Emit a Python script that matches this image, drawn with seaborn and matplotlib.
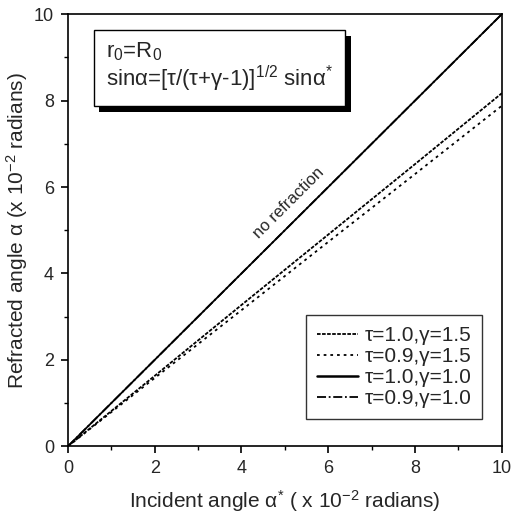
import numpy as np
import matplotlib
matplotlib.use("Agg")
import matplotlib.pyplot as plt
import matplotlib.patheffects as pe
from matplotlib.ticker import MultipleLocator
import pandas as pd
import seaborn as sns

# values
incident = [0, 2, 4, 6, 8, 10]
refr_t10_g15 = [0, 1.63, 3.27, 4.90, 6.53, 8.17]
refr_t09_g15 = [0, 1.58, 3.15, 4.73, 6.30, 7.88]
refr_t10_g10 = [0, 2, 4, 6, 8, 10]
refr_t09_g10 = [0, 2, 4, 6, 8, 10]
labels = ["τ=1.0,γ=1.5", "τ=0.9,γ=1.5", "τ=1.0,γ=1.0", "τ=0.9,γ=1.0"]

frames = []
for lab, ys in zip(labels, [refr_t10_g15, refr_t09_g15, refr_t10_g10, refr_t09_g10]):
    frames.append(pd.DataFrame({"x": incident, "y": ys, "case": lab}))
df = pd.concat(frames, ignore_index=True)

sns.set_style("ticks")
plt.rcParams["font.family"] = ["Liberation Sans", "DejaVu Sans"]
plt.rcParams["mathtext.fontset"] = "custom"
plt.rcParams["mathtext.rm"] = "Liberation Sans"
plt.rcParams["mathtext.it"] = "Liberation Sans"

fig = plt.figure(figsize=(5.11, 5.25), dpi=100)
ax = fig.add_axes([0.133, 0.150, 0.849, 0.823])

dashes = {labels[0]: (2, 0.8), labels[1]: (1.5, 2.2), labels[2]: "", labels[3]: (5, 1.5, 1, 1.5)}
sns.lineplot(data=df, x="x", y="y", hue="case", style="case", dashes=dashes,
             palette=["black"] * 4, hue_order=labels, style_order=labels, ax=ax, lw=1.3)
for line in ax.get_lines():
    if line.get_label() == labels[2]:
        line.set_linewidth(1.8)

ax.set_xlim(0, 10)
ax.set_ylim(0, 10)
ax.xaxis.set_major_locator(MultipleLocator(2))
ax.yaxis.set_major_locator(MultipleLocator(2))
ax.xaxis.set_minor_locator(MultipleLocator(1))
ax.yaxis.set_minor_locator(MultipleLocator(1))
ax.tick_params(which="major", direction="out", length=5, width=1.2, labelsize=13, pad=5, color="black")
ax.tick_params(which="minor", direction="out", length=3, width=1.0, color="black")
for s in ax.spines.values():
    s.set_color("black")
    s.set_linewidth(1.2)

ax.set_xlabel("Incident angle α$^{*}$ ( x 10$^{-2}$ radians)", fontsize=15, labelpad=8)
ax.set_ylabel("Refracted angle α (x 10$^{-2}$ radians)", fontsize=15, labelpad=3)

leg = ax.legend(loc="lower right", bbox_to_anchor=(0.978, 0.04), fontsize=15,
                frameon=True, fancybox=False, edgecolor="black", handlelength=2.0,
                handletextpad=0.3, borderpad=0.5, labelspacing=0.1)
leg.get_frame().set_linewidth(1.0)

ax.text(5.09, 5.63, "no refraction", rotation=45, ha="center", va="center", fontsize=12)

t = ax.text(0.088, 0.94,
            "r$_0$=R$_0$\nsinα=[τ/(τ+γ-1)]$^{1/2}$ sinα$^{*}$",
            transform=ax.transAxes, ha="left", va="top", fontsize=16, linespacing=1.05,
            bbox=dict(boxstyle="square,pad=0.55", fc="white", ec="black", lw=1.0))
t.get_bbox_patch().set_path_effects([pe.SimplePatchShadow(offset=(4, -4), shadow_rgbFace="black", alpha=1.0), pe.Normal()])

fig.savefig("out.png", dpi=100)
